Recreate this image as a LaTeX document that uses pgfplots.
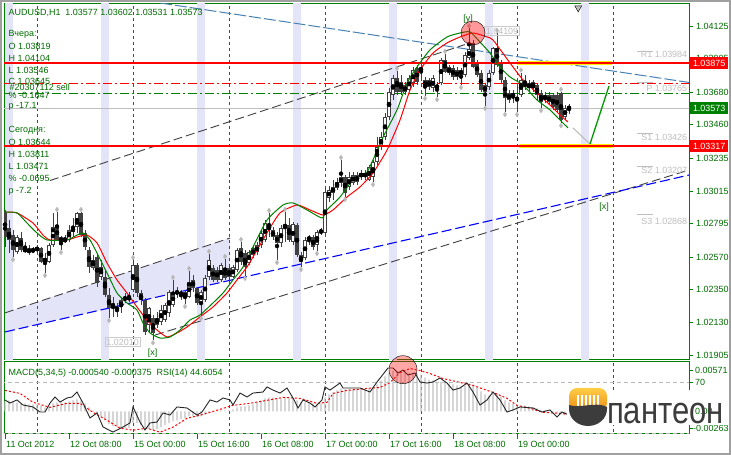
\documentclass[border=0pt]{standalone}
\usepackage{pgfplots}
\pgfplotsset{compat=1.18}
\usepackage{pgfplotstable}
\usepackage{fontspec}
\setmainfont{Liberation Sans}
\definecolor{mtgreen}{RGB}{0,128,0}
\definecolor{txtgreen}{RGB}{0,110,0}
\definecolor{cdark}{RGB}{64,64,64}
\definecolor{lav}{RGB}{228,228,248}
\definecolor{steel}{RGB}{70,130,180}
\definecolor{pivgray}{RGB}{190,190,190}
\definecolor{ddgray}{RGB}{60,60,60}
\definecolor{frgray}{RGB}{160,160,160}
\definecolor{histgray}{RGB}{192,192,192}
\definecolor{logotop}{RGB}{255,205,70}
\definecolor{logobot}{RGB}{235,140,20}

\pgfplotstableread{
b o h l c
0 1.02873 1.02887 1.02638 1.02705
1 1.02766 1.02819 1.02597 1.02685
2 1.02718 1.02752 1.02570 1.02618
3 1.02604 1.02718 1.02595 1.02705
4 1.02698 1.02739 1.02604 1.02618
5 1.02631 1.02671 1.02597 1.02604
6 1.02604 1.02651 1.02584 1.02618
7 1.02604 1.02638 1.02597 1.02624
8 1.02618 1.02651 1.02597 1.02631
9 1.02631 1.02638 1.02530 1.02537
10 1.02564 1.02597 1.02463 1.02537
11 1.02537 1.02665 1.02530 1.02651
12 1.02651 1.02866 1.02638 1.02772
13 1.02786 1.02873 1.02680 1.02685
14 1.02705 1.02710 1.02618 1.02671
15 1.02671 1.02718 1.02665 1.02698
16 1.02685 1.02786 1.02671 1.02752
17 1.02739 1.02833 1.02705 1.02772
18 1.02772 1.02873 1.02732 1.02866
19 1.02866 1.02873 1.02705 1.02718
20 1.02732 1.02752 1.02618 1.02638
21 1.02618 1.02638 1.02463 1.02503
22 1.02496 1.02584 1.02483 1.02550
23 1.02570 1.02597 1.02369 1.02395
24 1.02436 1.02550 1.02416 1.02503
25 1.02436 1.02483 1.02301 1.02315
26 1.02315 1.02362 1.02160 1.02227
27 1.02261 1.02301 1.02167 1.02227
28 1.02214 1.02261 1.02167 1.02234
29 1.02234 1.02301 1.02194 1.02281
30 1.02281 1.02328 1.02261 1.02301
31 1.02281 1.02335 1.02268 1.02308
32 1.02348 1.02550 1.02335 1.02517
33 1.02517 1.02530 1.02301 1.02328
34 1.02328 1.02348 1.02247 1.02281
35 1.02281 1.02295 1.02045 1.02066
36 1.02113 1.02234 1.02059 1.02227
37 1.02160 1.02180 1.02010 1.02059
38 1.02113 1.02200 1.02093 1.02160
39 1.02133 1.02247 1.02113 1.02214
40 1.02146 1.02261 1.02133 1.02247
41 1.02194 1.02348 1.02167 1.02335
42 1.02247 1.02416 1.02234 1.02335
43 1.02335 1.02369 1.02295 1.02328
44 1.02315 1.02348 1.02281 1.02335
45 1.02335 1.02348 1.02254 1.02295
46 1.02300 1.02476 1.02295 1.02402
47 1.02416 1.02449 1.02335 1.02362
48 1.02362 1.02369 1.02247 1.02261
49 1.02261 1.02348 1.02173 1.02335
50 1.02281 1.02449 1.02268 1.02429
51 1.02436 1.02591 1.02416 1.02550
52 1.02496 1.02517 1.02402 1.02416
53 1.02483 1.02503 1.02402 1.02416
54 1.02416 1.02530 1.02402 1.02517
55 1.02496 1.02557 1.02416 1.02429
56 1.02496 1.02517 1.02402 1.02436
57 1.02436 1.02517 1.02429 1.02503
58 1.02483 1.02631 1.02469 1.02618
59 1.02631 1.02671 1.02517 1.02537
60 1.02597 1.02618 1.02443 1.02503
61 1.02530 1.02618 1.02517 1.02604
62 1.02584 1.02651 1.02564 1.02631
63 1.02604 1.02671 1.02584 1.02651
64 1.02651 1.02752 1.02631 1.02732
65 1.02685 1.02819 1.02671 1.02799
66 1.02786 1.02866 1.02705 1.02752
67 1.02752 1.02772 1.02685 1.02705
68 1.02718 1.02739 1.02550 1.02665
69 1.02665 1.02786 1.02638 1.02766
70 1.02772 1.02873 1.02671 1.02786
71 1.02786 1.02833 1.02671 1.02685
72 1.02671 1.02806 1.02651 1.02793
73 1.02786 1.02799 1.02570 1.02584
74 1.02584 1.02604 1.02503 1.02537
75 1.02564 1.02705 1.02550 1.02685
76 1.02705 1.02718 1.02651 1.02685
77 1.02705 1.02718 1.02618 1.02638
78 1.02651 1.02752 1.02611 1.02739
79 1.02752 1.02766 1.02718 1.02732
80 1.02732 1.03035 1.02718 1.03008
81 1.02968 1.03048 1.02940 1.03021
82 1.03001 1.03089 1.02954 1.03042
83 1.03035 1.03102 1.03021 1.03075
84 1.03068 1.03223 1.03042 1.03109
85 1.03109 1.03122 1.02974 1.03001
86 1.03042 1.03142 1.03021 1.03109
87 1.03068 1.03142 1.03055 1.03122
88 1.03122 1.03142 1.03055 1.03075
89 1.03109 1.03156 1.03089 1.03136
90 1.03136 1.03156 1.03089 1.03109
91 1.03089 1.03190 1.03082 1.03176
92 1.03109 1.03223 1.03075 1.03210
93 1.03210 1.03378 1.03190 1.03311
94 1.03311 1.03412 1.03291 1.03378
95 1.03378 1.03540 1.03358 1.03513
96 1.03513 1.03708 1.03492 1.03681
97 1.03661 1.03795 1.03627 1.03775
98 1.03775 1.03822 1.03661 1.03681
99 1.03751 1.03795 1.03661 1.03681
100 1.03681 1.03748 1.03661 1.03728
101 1.03694 1.03795 1.03681 1.03775
102 1.03741 1.03849 1.03715 1.03829
103 1.03842 1.03863 1.03728 1.03748
104 1.03819 1.03876 1.03762 1.03849
105 1.03762 1.03782 1.03654 1.03715
106 1.03762 1.03775 1.03694 1.03715
107 1.03708 1.03795 1.03681 1.03775
108 1.03728 1.03748 1.03647 1.03708
109 1.03741 1.03910 1.03728 1.03896
110 1.03896 1.03937 1.03809 1.03815
111 1.03849 1.03863 1.03795 1.03809
112 1.03842 1.03863 1.03762 1.03782
113 1.03782 1.03849 1.03762 1.03829
114 1.03829 1.03842 1.03728 1.03795
115 1.03795 1.03950 1.03782 1.03930
116 1.03910 1.04109 1.03896 1.03971
117 1.04011 1.04031 1.03842 1.03849
118 1.03876 1.03896 1.03782 1.03795
119 1.03809 1.03829 1.03681 1.03694
120 1.03728 1.03741 1.03587 1.03681
121 1.03715 1.03829 1.03694 1.03809
122 1.03809 1.03984 1.03795 1.03977
123 1.03977 1.04078 1.03849 1.03863
124 1.03876 1.03896 1.03741 1.03762
125 1.03762 1.03782 1.03546 1.03641
126 1.03627 1.03694 1.03607 1.03674
127 1.03674 1.03694 1.03607 1.03645
128 1.03644 1.03715 1.03546 1.03627
129 1.03661 1.03811 1.03647 1.03762
130 1.03751 1.03795 1.03694 1.03715
131 1.03708 1.03762 1.03681 1.03741
132 1.03748 1.03762 1.03681 1.03708
133 1.03728 1.03741 1.03627 1.03661
134 1.03674 1.03694 1.03573 1.03614
135 1.03661 1.03681 1.03607 1.03627
136 1.03614 1.03681 1.03593 1.03661
137 1.03661 1.03674 1.03560 1.03580
138 1.03661 1.03681 1.03546 1.03560
139 1.03674 1.03681 1.03471 1.03492
140 1.03513 1.03593 1.03493 1.03573
141 1.03577 1.03602 1.03531 1.03573
}\candles

\pgfplotstableread{
b m
0 0.00115
1 0.00127
2 0.00115
3 0.00104
4 0.00092
5 0.00092
6 0.00081
7 0.00081
8 0.00081
9 0.00069
10 0.00046
11 0.00058
12 0.00092
13 0.00104
14 0.00104
15 0.00104
16 0.00115
17 0.00127
18 0.00138
19 0.00127
20 0.00092
21 0.00046
22 0.00012
23 -0.00035
24 -0.00058
25 -0.00104
26 -0.00150
27 -0.00173
28 -0.00184
29 -0.00196
30 -0.00196
31 -0.00196
32 -0.00138
33 -0.00138
34 -0.00161
35 -0.00196
36 -0.00207
37 -0.00219
38 -0.00207
39 -0.00184
40 -0.00161
41 -0.00138
42 -0.00115
43 -0.00104
44 -0.00092
45 -0.00081
46 -0.00058
47 -0.00058
48 -0.00069
49 -0.00058
50 -0.00035
51 -0.00012
52 0.00001
53 0.00002
54 0.00012
55 0.00012
56 0.00012
57 0.00023
58 0.00046
59 0.00058
60 0.00058
61 0.00069
62 0.00081
63 0.00104
64 0.00127
65 0.00150
66 0.00161
67 0.00161
68 0.00150
69 0.00150
70 0.00161
71 0.00150
72 0.00150
73 0.00127
74 0.00104
75 0.00104
76 0.00104
77 0.00092
78 0.00092
79 0.00092
80 0.00161
81 0.00196
82 0.00219
83 0.00242
84 0.00265
85 0.00253
86 0.00253
87 0.00253
88 0.00253
89 0.00253
90 0.00253
91 0.00265
92 0.00276
93 0.00311
94 0.00357
95 0.00403
96 0.00449
97 0.00472
98 0.00472
99 0.00460
100 0.00449
101 0.00449
102 0.00449
103 0.00437
104 0.00426
105 0.00391
106 0.00368
107 0.00357
108 0.00334
109 0.00345
110 0.00334
111 0.00322
112 0.00311
113 0.00299
114 0.00288
115 0.00299
116 0.00322
117 0.00311
118 0.00276
119 0.00230
120 0.00196
121 0.00184
122 0.00207
123 0.00207
124 0.00173
125 0.00127
126 0.00104
127 0.00092
128 0.00069
129 0.00058
130 0.00069
131 0.00058
132 0.00046
133 0.00035
134 0.00012
135 0.00012
136 0.00001
137 -0.00012
138 -0.00023
139 -0.00035
140 -0.00046
141 -0.00054
}\macd

\begin{document}
\begin{tikzpicture}[x=1bp,y=1bp]
\useasboundingbox (0,0) rectangle (731,455);
\fill[white] (0,0) rectangle (731,455);

% ================= MAIN PRICE PANEL =================
\begin{axis}[
  at={(4bp,95bp)}, anchor=south west, scale only axis,
  width=685bp, height=356bp,
  xmin=-0.25, xmax=171, ymin=1.018772, ymax=1.042731,
  axis line style={draw=mtgreen, line width=1bp},
  xtick=\empty,
  ytick={1.01905,1.02130,1.02350,1.02570,1.02795,1.03015,1.03235,1.03460,1.03680,1.03905,1.04125},
  yticklabels={1.01905,1.02130,1.02350,1.02570,1.02795,1.03015,1.03235,1.03460,1.03680,1.03905,1.04125},
  ytick pos=right, yticklabel pos=right, tick align=outside, major tick length=4bp,
  tick style={draw=mtgreen, line width=0.8bp},
  yticklabel style={font=\fontsize{9}{10}\selectfont, text=txtgreen, anchor=west, inner sep=0pt, xshift=3bp},
]
% vertical lavender bands
\addplot[fill=lav, draw=none] coordinates {(0,1.0)(2,1.0)(2,1.05)(0,1.05)} --cycle;
\addplot[fill=lav, draw=none] coordinates {(24,1.0)(26,1.0)(26,1.05)(24,1.05)} --cycle;
\addplot[fill=lav, draw=none] coordinates {(48,1.0)(50,1.0)(50,1.05)(48,1.05)} --cycle;
\addplot[fill=lav, draw=none] coordinates {(72,1.0)(74,1.0)(74,1.05)(72,1.05)} --cycle;
\addplot[fill=lav, draw=none] coordinates {(96,1.0)(98,1.0)(98,1.05)(96,1.05)} --cycle;
\addplot[fill=lav, draw=none] coordinates {(120,1.0)(122,1.0)(122,1.05)(120,1.05)} --cycle;
\addplot[fill=lav, draw=none] coordinates {(144,1.0)(146,1.0)(146,1.05)(144,1.05)} --cycle;
% channel fill
\addplot[fill=lav, draw=none] coordinates {(0,1.02194)(56.25,1.02698)(56.25,1.02413)(0,1.02066)} --cycle;
% day separators
\pgfplotsinvokeforeach{8,32,56,80,104,128,152}{
  \addplot[mtgreen, line width=0.9bp, dash pattern=on 3bp off 3bp] coordinates {(#1,1.0)(#1,1.05)};
}
% trend lines
\addplot[steel, line width=1bp, dash pattern=on 12bp off 3bp] coordinates {(38.75,1.04280)(171,1.03745)};
\addplot[cdark, line width=0.9bp, dash pattern=on 9bp off 4bp] coordinates {(11.25,1.03085)(115,1.04000)};
\addplot[cdark, line width=0.9bp, dash pattern=on 9bp off 4bp] coordinates {(0,1.02194)(56.25,1.02698)};
\addplot[cdark, line width=0.9bp, dash pattern=on 9bp off 4bp] coordinates {(37.5,1.02045)(171,1.03156)};
\addplot[blue, line width=1.1bp, dash pattern=on 10bp off 4bp] coordinates {(0,1.02066)(171,1.03122)};
% price / order lines
\addplot[pivgray, line width=1bp] coordinates {(-1,1.03573)(172,1.03573)};
\addplot[red, line width=0.9bp, dash pattern=on 9bp off 3bp on 2bp off 3bp] coordinates {(-1,1.03739)(172,1.03739)};
\addplot[mtgreen, line width=0.9bp, dash pattern=on 9bp off 3bp on 2bp off 3bp] coordinates {(-1,1.03672)(172,1.03672)};
% candles: wicks
\addplot[only marks, mark=none, error bars/.cd, y dir=both, y explicit, error mark=none,
  error bar style={draw=cdark, line width=1bp}]
  table[x=b, y expr={(\thisrow{h}+\thisrow{l})/2}, y error expr={(\thisrow{h}-\thisrow{l})/2}] {\candles};
% bodies
\addplot[only marks, mark=none, error bars/.cd, y dir=both, y explicit, error mark=none,
  error bar style={draw=cdark, line width=3.2bp}]
  table[x=b, y expr={(\thisrow{o}+\thisrow{c})/2}, y error expr={max(abs(\thisrow{o}-\thisrow{c})/2,0.00004)}] {\candles};
% bull bodies: white inside
\addplot[only marks, mark=none, error bars/.cd, y dir=both, y explicit, error mark=none,
  error bar style={draw=white, line width=1.3bp}]
  table[x=b, y expr={(\thisrow{o}+\thisrow{c})/2}, y error expr={max((\thisrow{c}-\thisrow{o})/2-0.00006,0)}] {\candles};
% support / resistance
\addplot[yellow, line width=4.5bp] coordinates {(128,1.03875)(151.75,1.03875)};
\addplot[yellow, line width=4.5bp] coordinates {(128.5,1.03317)(152,1.03317)};
\addplot[red, line width=2.2bp] coordinates {(-1,1.03875)(172,1.03875)};
\addplot[red, line width=2.2bp] coordinates {(-1,1.03317)(172,1.03317)};
% moving averages
\addplot[red, line width=1bp, smooth, tension=0.35] coordinates {
(0,1.02873) (3,1.02867) (7,1.02799) (9.5,1.02718) (11.25,1.02685) (15.5,1.02685) (18,1.02705) (20.5,1.02718) (23,1.02665) (25.5,1.02530) (28,1.02416) (30.5,1.02328) (33,1.02234) (35.5,1.02146) (38,1.02079) (40.5,1.02032) (43,1.02059) (45.5,1.02099) (48.75,1.02167) (52,1.02234) (55.5,1.02328) (58,1.02416) (60.5,1.02503) (62,1.02570) (65.5,1.02732) (68.75,1.02867) (73,1.02920) (76.25,1.02887) (79.5,1.02853) (82,1.02887) (85.5,1.02974) (88.75,1.03042) (92,1.03136) (95.5,1.03290) (98.75,1.03492) (101.25,1.03694) (103.75,1.03829) (107,1.03943) (110.5,1.04011) (113.75,1.04051) (117,1.04078) (120.5,1.04051) (122,1.04031) (126.25,1.03876) (129.5,1.03762) (133,1.03674) (136.25,1.03593) (138.75,1.03526) (140.75,1.03479)};
\addplot[mtgreen, line width=1bp, smooth, tension=0.35] coordinates {
(0,1.02873) (3,1.02867) (5.5,1.02799) (8,1.02732) (10.5,1.02685) (15.5,1.02685) (18,1.02718) (19.5,1.02732) (21.25,1.02685) (23,1.02597) (25.5,1.02463) (28,1.02328) (30.5,1.02261) (33,1.02214) (34.5,1.02126) (36.25,1.02059) (38.75,1.02025) (41.25,1.02032) (43.75,1.02079) (46.25,1.02146) (48.75,1.02180) (52,1.02261) (54.5,1.02328) (57,1.02416) (59.5,1.02503) (62,1.02638) (65.5,1.02819) (69.5,1.02920) (72,1.02934) (75.5,1.02887) (79.25,1.02833) (80.5,1.02887) (83.75,1.02974) (87,1.03089) (90.5,1.03142) (94.5,1.03376) (98,1.03560) (100.5,1.03741) (103,1.03849) (106.25,1.03964) (110.5,1.04051) (113.75,1.04078) (116.25,1.04085) (118.75,1.04017) (121.25,1.03943) (123.75,1.03849) (126.25,1.03782) (129.5,1.03728) (133,1.03627) (136.25,1.03560) (138.75,1.03492) (140.75,1.03439)};
% fractal markers
\addplot[only marks, mark=diamond*, mark size=2.3bp, mark options={fill=gray!55, draw=gray!55}] coordinates {
(13,1.02890)(19,1.02890)(32,1.02567)(42,1.02433)(46,1.02493)(51,1.02608)(55,1.02574)(59,1.02688)(66,1.02883)(70,1.02890)(84,1.03240)(98,1.03839)(110,1.03954)(116,1.04126)(123,1.04095)(129,1.03828)(139,1.03698)
(2,1.02553)(10,1.02446)(14,1.02601)(26,1.02143)(37,1.01993)(45,1.02237)(49,1.02156)(60,1.02426)(68,1.02533)(74,1.02486)(78,1.02594)(85,1.02957)(92,1.03058)(105,1.03637)(108,1.03630)(114,1.03711)(120,1.03570)(125,1.03529)(128,1.03529)(134,1.03556)(139,1.03454)};
% forecast lines
\addplot[gray!55, line width=1bp] coordinates {(142,1.03439)(146.25,1.03331)};
\addplot[green!60!black, line width=1.3bp] coordinates {(146.25,1.03331)(151,1.03721)};
% pivot level marks
\addplot[pivgray, line width=0.8bp] coordinates {(158,1.03957)(162,1.03957)};
\addplot[pivgray, line width=0.8bp] coordinates {(158,1.03748)(162,1.03748)};
\addplot[pivgray, line width=0.8bp] coordinates {(158,1.03405)(162,1.03405)};
\addplot[pivgray, line width=0.8bp] coordinates {(158,1.03183)(162,1.03183)};
\addplot[pivgray, line width=0.8bp] coordinates {(158,1.02860)(162,1.02860)};
% highlight circle
\addplot[only marks, mark=*, mark size=12bp, mark options={draw=none, fill=red, fill opacity=0.4}] coordinates {(117,1.04078)};
% chart-shift triangle
\addplot[only marks, mark=triangle*, mark size=4bp, mark options={rotate=180, draw=none, fill=gray!50}] coordinates {(143.3,1.04247)};
% labels
\node[text=txtgreen, font=\fontsize{9}{10}\selectfont] at (axis cs:36.9,1.01924) {[x]};
\node[text=txtgreen, font=\fontsize{9}{10}\selectfont] at (axis cs:115.75,1.04172) {[y]};
\node[text=txtgreen, font=\fontsize{9}{10}\selectfont] at (axis cs:149.75,1.02907) {[x]};
\node[draw=pivgray!80, text=pivgray, inner sep=1.2bp, font=\fontsize{9}{10}\selectfont] at (axis cs:29.4,1.01998) {1.02010};
\node[draw=pivgray!80, text=pivgray, inner sep=1.2bp, font=\fontsize{9}{10}\selectfont] at (axis cs:124.25,1.04091) {1.04109};
\node[text=pivgray, anchor=east, inner sep=0pt, font=\fontsize{9}{10}\selectfont] at (axis cs:170.6,1.03937) {R1 1.03984};
\node[text=pivgray, anchor=east, inner sep=0pt, font=\fontsize{9}{10}\selectfont] at (axis cs:170.6,1.03708) {P 1.03765};
\node[text=pivgray, anchor=east, inner sep=0pt, font=\fontsize{9}{10}\selectfont] at (axis cs:170.6,1.03378) {S1 1.03426};
\node[text=pivgray, anchor=east, inner sep=0pt, font=\fontsize{9}{10}\selectfont] at (axis cs:170.6,1.03156) {S2 1.03207};
\node[text=pivgray, anchor=east, inner sep=0pt, font=\fontsize{9}{10}\selectfont] at (axis cs:170.6,1.02813) {S3 1.02868};
\end{axis}

% ================= MACD / RSI PANEL =================
\begin{axis}[
  at={(4bp,21bp)}, anchor=south west, scale only axis,
  width=685bp, height=72bp,
  xmin=-0.25, xmax=171, ymin=-0.00263, ymax=0.00571,
  axis line style={draw=mtgreen, line width=1bp},
  ytick=\empty,
  xtick={0,16,32,48,64,80,96,112,128},
  xticklabels={11 Oct 2012,12 Oct 08:00,15 Oct 00:00,15 Oct 16:00,16 Oct 08:00,17 Oct 00:00,17 Oct 16:00,18 Oct 08:00,19 Oct 00:00},
  xtick pos=left, tick align=outside, major tick length=5bp,
  tick style={draw=mtgreen, line width=0.8bp},
  xticklabel style={font=\fontsize{9}{10}\selectfont, text=txtgreen, anchor=north west, inner sep=0pt, yshift=-2bp, xshift=1bp},
]
\pgfplotsinvokeforeach{8,32,56,80,104,128,152}{
  \addplot[mtgreen, line width=0.9bp, dash pattern=on 3bp off 3bp] coordinates {(#1,-0.01)(#1,0.01)};
}
\addplot[ybar, bar width=1.1bp, fill=histgray, draw=none] table[x=b, y=m] {\macd};
\addplot[red, line width=1bp, dash pattern=on 2bp off 2bp] coordinates {
(0,0.00242)(3.75,0.00207)(7,0.00104)(11.25,0.00046)(15.5,0.00092)(18.75,0.00092)(22,-0.00012)(25.5,-0.00104)(28.75,-0.00196)(32,-0.00219)(35.5,-0.00196)(38.75,-0.00242)(42,-0.00184)(45.5,-0.00081)(48.75,-0.00046)(53,0.00012)(57,0.00069)(61.25,0.00092)(65.5,0.00127)(69.5,0.00161)(73.75,0.00150)(78,0.00092)(80.5,0.00104)(82,0.00207)(85.5,0.00242)(90.5,0.00265)(93.75,0.00276)(96.25,0.00334)(98.75,0.00449)(101.25,0.00495)(103.75,0.00472)(106.25,0.00437)(109.5,0.00380)(113.75,0.00334)(117,0.00299)(122,0.00219)(125.5,0.00150)(128,0.00069)(131.25,0.00035)(134.5,-0.00012)(138.75,-0.00023)(141,-0.000375)};
\end{axis}
\begin{axis}[
  at={(4bp,21bp)}, anchor=south west, scale only axis,
  width=685bp, height=72bp,
  xmin=-0.25, xmax=171, ymin=30, ymax=85.4, hide axis,
]
\addplot[gray!55, line width=0.8bp, dash pattern=on 4bp off 3bp] coordinates {(-1,70)(172,70)};
\addplot[gray!55, line width=0.8bp, dash pattern=on 4bp off 3bp] coordinates {(-1,30.6)(172,30.6)};
\addplot[black!85, line width=0.9bp] coordinates {
(0,56.2)(1.25,53.8)(3,56.2)(4.5,52.3)(7,50.8)(8.75,46.9)(10,46.9)(11.25,53.8)(12.5,58.5)(13.75,54.6)(15.5,57.7)(16.75,58.5)(18,62.3)(19.5,53.8)(21.25,42.3)(23,46.2)(24.5,35.4)(27,31.5)(29.5,35.4)(31.25,38.5)(32,50.8)(33.75,39.2)(35,33.1)(36.25,38.5)(38,39.2)(39.5,46.2)(41.25,44.6)(43,50.8)(45.5,50.0)(48,44.6)(49.25,46.9)(51.25,56.2)(53,54.6)(54.5,57.7)(56.25,56.2)(57,52.3)(58.75,61.5)(60.5,58.5)(62,61.5)(64.5,62.3)(65.5,66.2)(67,63.8)(68.75,61.5)(70.5,65.4)(72,57.7)(73.25,50.0)(74.5,56.2)(76.25,53.8)(77.5,50.8)(79.25,56.2)(80,66.2)(81.25,63.8)(83.75,69.2)(84.5,65.4)(87,65.4)(88.75,65.4)(91.25,62.3)(93,70.0)(95.75,80.8)(97,80.8)(98.25,76.9)(99.5,79.2)(100.75,75.4)(102.5,76.9)(103.75,70.0)(105.5,69.2)(107,70.0)(108.75,73.1)(110.5,69.2)(112,63.8)(113.75,65.4)(115.5,69.2)(117,62.3)(118.75,52.3)(120.5,56.2)(122,62.3)(123.75,56.2)(125.5,46.9)(127,48.5)(128.75,50.8)(132,50.0)(134.25,46.9)(136.25,48.5)(138,43.1)(139.25,46.9)(141,44.6)};
\addplot[only marks, mark=*, mark size=14bp, mark options={draw=none, fill=red, fill opacity=0.35}] coordinates {(99.5,79.5)};
\end{axis}

% ================= TEXT / OVERLAYS =================
\begin{scope}[every node/.style={font=\fontsize{9}{10}\selectfont, text=txtgreen, anchor=west, inner sep=0pt}]
\node at (8.5,442) {AUDUSD,H1\ \ 1.03577 1.03602 1.03531 1.03573};
\node at (8.5,420.7) {Вчера:};
\node at (8.5,409) {O 1.03819};
\node at (8.5,396.7) {H 1.04104};
\node at (8.5,384.3) {L 1.03546};
\node at (8.5,373.3) {C 1.03645};
\node at (9.5,367.3) {\#20307112 sell};
\node at (8.5,360) {\% -0.1647};
\node at (8.5,348.3) {p -17.1};
\node at (8.5,324.3) {Сегодня:};
\node at (8.5,312.7) {O 1.03644};
\node at (8.5,300.7) {H 1.03811};
\node at (8.5,289) {L 1.03471};
\node at (8.5,276.7) {\% -0.0695};
\node at (8.5,264) {p -7.2};
\node at (8.5,82.3) {MACD(5,34,5) -0.000540 -0.000375\ \ RSI(14) 44.6054};
\node at (695,84.3) {0.00571};
\node at (695,72.7) {70};
\node at (693,26.7) {-0.00263};
\end{scope}
\draw[mtgreen, line width=0.8bp] (689,84.3)--(693,84.3) (689,72.7)--(693,72.7) (689,26.7)--(693,26.7) (689,44)--(693,44);
% price boxes
\begin{scope}[every node/.style={font=\fontsize{9}{10}\selectfont, text=white, anchor=west, inner sep=0pt, minimum width=38bp, minimum height=12bp}]
\node[fill=red] at (690,392) {1.03875};
\node[fill=red] at (690,309) {1.03317};
\node[fill=mtgreen] at (690,347) {1.03573};
\end{scope}

% logo
\fill[white] (567,30) rectangle (727,65);
\node[anchor=west, inner sep=0pt, text=txtgreen, font=\fontsize{9}{10}\selectfont] at (695,44) {0.00};
\shade[top color=logotop, bottom color=logobot, rounded corners=8bp] (569,44) rectangle (607,67);
\foreach \xx in {578,582,586,590,594,598} {\draw[white, line width=1.2bp] (\xx,48)--(\xx,60);}
\fill[ddgray] (569,50) .. controls (580,46) and (596,54) .. (607,48) -- (607,46) arc[start angle=0, end angle=-180, x radius=19, y radius=17] -- cycle;
\node[anchor=west, inner sep=0pt, text=ddgray, font=\fontsize{38}{38}\selectfont, xscale=0.82] at (607,41.5) {пантеон};

% outer frame
\draw[frgray, line width=2bp] (1,1) rectangle (730,454);
\end{tikzpicture}
\end{document}
